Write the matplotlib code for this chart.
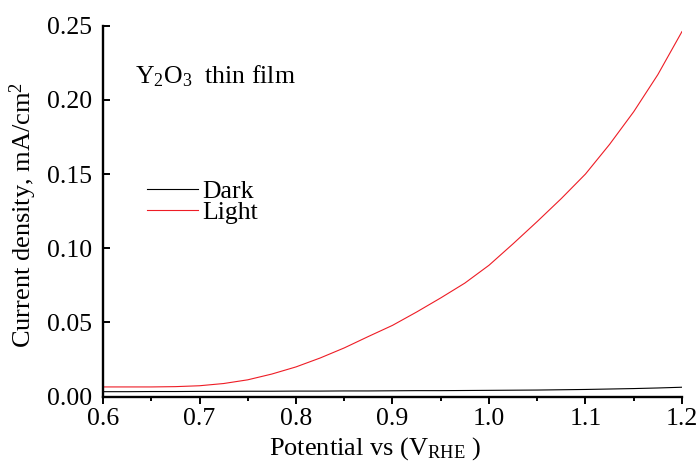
# -*- coding: utf-8 -*-

import numpy as np
import matplotlib
matplotlib.use("Agg")
import matplotlib.pyplot as plt
from matplotlib.ticker import MultipleLocator

#-------------Times-like style--------------
plt.rc('font', family='Liberation Serif', size=18.5)
plt.rc('mathtext', fontset='custom', rm='Liberation Serif', it='Liberation Serif:italic')
#-------------------------------------------

"""Photocurrent of Y2O3 film, read from the figure"""
potential = [0.600, 0.625, 0.650, 0.675, 0.700, 0.725, 0.750, 0.775, 0.800,
             0.825, 0.850, 0.875, 0.900, 0.925, 0.950, 0.975, 1.000, 1.025,
             1.050, 1.075, 1.100, 1.125, 1.150, 1.175, 1.200]
light = [0.0065, 0.0065, 0.0065, 0.0067, 0.0073, 0.0088, 0.0113, 0.0152, 0.0200,
         0.0260, 0.0328, 0.0405, 0.0480, 0.0570, 0.0665, 0.0765, 0.0885, 0.1030,
         0.1180, 0.1335, 0.1500, 0.1700, 0.1920, 0.2170, 0.2460]
dark = [0.0033, 0.0033, 0.0034, 0.0034, 0.0035, 0.0035, 0.0036, 0.0036, 0.0037,
        0.0037, 0.0038, 0.0038, 0.0039, 0.0040, 0.0040, 0.0041, 0.0042, 0.0043,
        0.0044, 0.0046, 0.0048, 0.0051, 0.0054, 0.0058, 0.0063]

fig = plt.figure(figsize=(6.98, 4.62), dpi=100)
ax = fig.add_axes([0.1476, 0.1416, 0.8294, 0.8028])

ax.plot(potential, dark, color='k', lw=0.8, label='Dark')
ax.plot(potential, light, color='#ee1c25', lw=0.8, label='Light')

ax.set_xlim(0.6, 1.2)
ax.set_ylim(0.0, 0.25)
ax.xaxis.set_major_locator(MultipleLocator(0.1))
ax.xaxis.set_minor_locator(MultipleLocator(0.05))
ax.yaxis.set_major_locator(MultipleLocator(0.05))
ax.xaxis.set_major_formatter(matplotlib.ticker.FormatStrFormatter('%.1f'))
ax.yaxis.set_major_formatter(matplotlib.ticker.FormatStrFormatter('%.2f'))

ax.spines['top'].set_visible(False)
ax.spines['right'].set_visible(False)
ax.spines['left'].set_linewidth(1.7)
ax.spines['bottom'].set_linewidth(1.7)
ax.tick_params(axis='x', which='major', direction='out', length=5, width=1.4, pad=3)
ax.tick_params(axis='x', which='minor', direction='out', length=3, width=1.4)
ax.tick_params(axis='y', which='major', direction='in', length=5, width=1.4, pad=8)

ax.set_xlabel(r'Potential vs (V$_{\mathrm{RHE}}$ )', fontsize=19)
ax.xaxis.set_label_coords(0.47, -0.105)
ax.set_ylabel(r'Current density, mA/cm$^{2}$', fontsize=19)
ax.yaxis.set_label_coords(-0.11, 0.49)

ax.text(0.055, 0.8455, r'Y$_{2}$O$_{3}$  thin film', transform=ax.transAxes, va='baseline')

ax.legend(loc='upper left', bbox_to_anchor=(0.076, 0.585), frameon=False,
          borderpad=0, borderaxespad=0, handlelength=2.0, handletextpad=0.15,
          labelspacing=-0.07)

fig.savefig("out.png", dpi=100)
